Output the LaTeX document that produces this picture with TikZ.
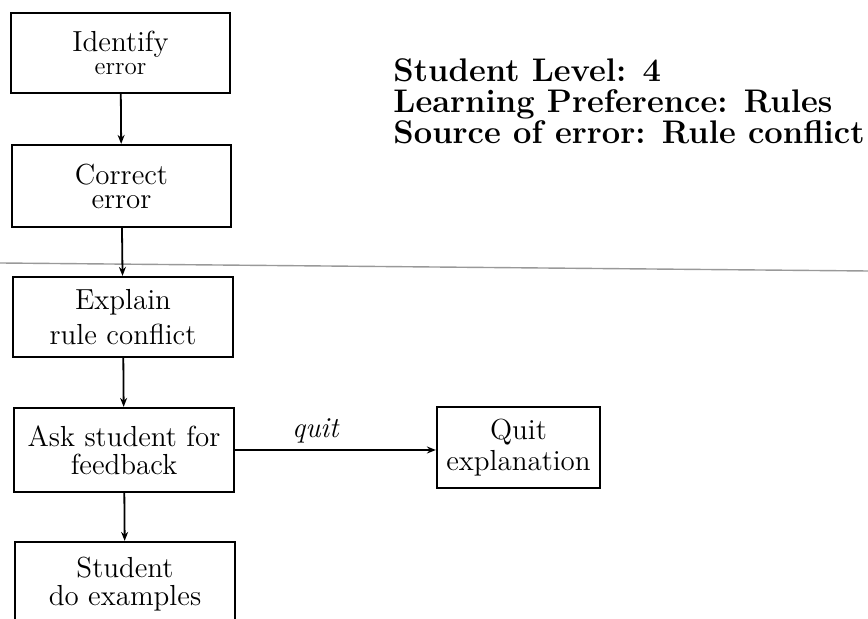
\documentclass[tikz,border=0pt]{standalone}
\usetikzlibrary{arrows.meta}
\begin{document}
\begin{tikzpicture}[x=0.5pt,y=-0.5pt,
  stepbox/.style={draw, line width=1.1pt, minimum width=110pt, minimum height=41pt,
    align=center, inner sep=0pt},
  boxfont/.style={font=\fontsize{14.5}{#1}\selectfont},
  flow/.style={line width=0.9pt, -{Stealth[length=4.5pt,width=3.5pt]}},
  info/.style={anchor=base west, inner sep=0pt, font=\fontsize{16.35}{16}\selectfont\bfseries}
]
\useasboundingbox (0,0) rectangle (868,619);
\clip (0,0) rectangle (868,619);

% faint rule across the page
\draw[black!40, line width=0.7pt] (0,263) -- (868,271);

% the flow of explanation steps
\node[stepbox, minimum width=109.5pt, minimum height=40pt, boxfont=11.5] (id) at (120.5,53)
  {Identify\\{\fontsize{12.5}{11.5}\selectfont error}};
\node[stepbox, minimum width=109.5pt, minimum height=41pt, boxfont=12] (corr) at (121.5,186)
  {Correct\\error};
\node[stepbox, minimum width=110pt, minimum height=40pt, boxfont=17.5] (expl) at (123,317)
  {Explain\\rule conflict};
\node[stepbox, minimum width=110pt, minimum height=42pt, boxfont=14] (ask) at (124,450)
  {Ask student for\\feedback};
\node[stepbox, minimum width=110pt, minimum height=42pt, boxfont=14] (stud) at (125,584)
  {Student\\do examples};
\node[stepbox, minimum width=81.5pt, minimum height=40.5pt, boxfont=15.5] (quitbox) at (518.5,447.5)
  {Quit\\explanation};

\draw[flow] (id) -- (corr);
\draw[flow] (corr) -- (expl);
\draw[flow] (expl) -- (ask);
\draw[flow] (ask) -- (stud);
\draw[flow] (ask.east) -- node[pos=0.4, above=3pt, inner sep=0pt,
  font=\fontsize{14.5}{14}\selectfont\itshape] (quitlabel) {quit} (ask.east -| quitbox.west);

% student profile
\node[info] (lvl) at (393,82) {Student Level: 4};
\node[info] (pref) at (393,113) {Learning Preference: Rules};
\node[info] (src) at (393,144) {Source of error: Rule conflict};
\end{tikzpicture}
\end{document}
